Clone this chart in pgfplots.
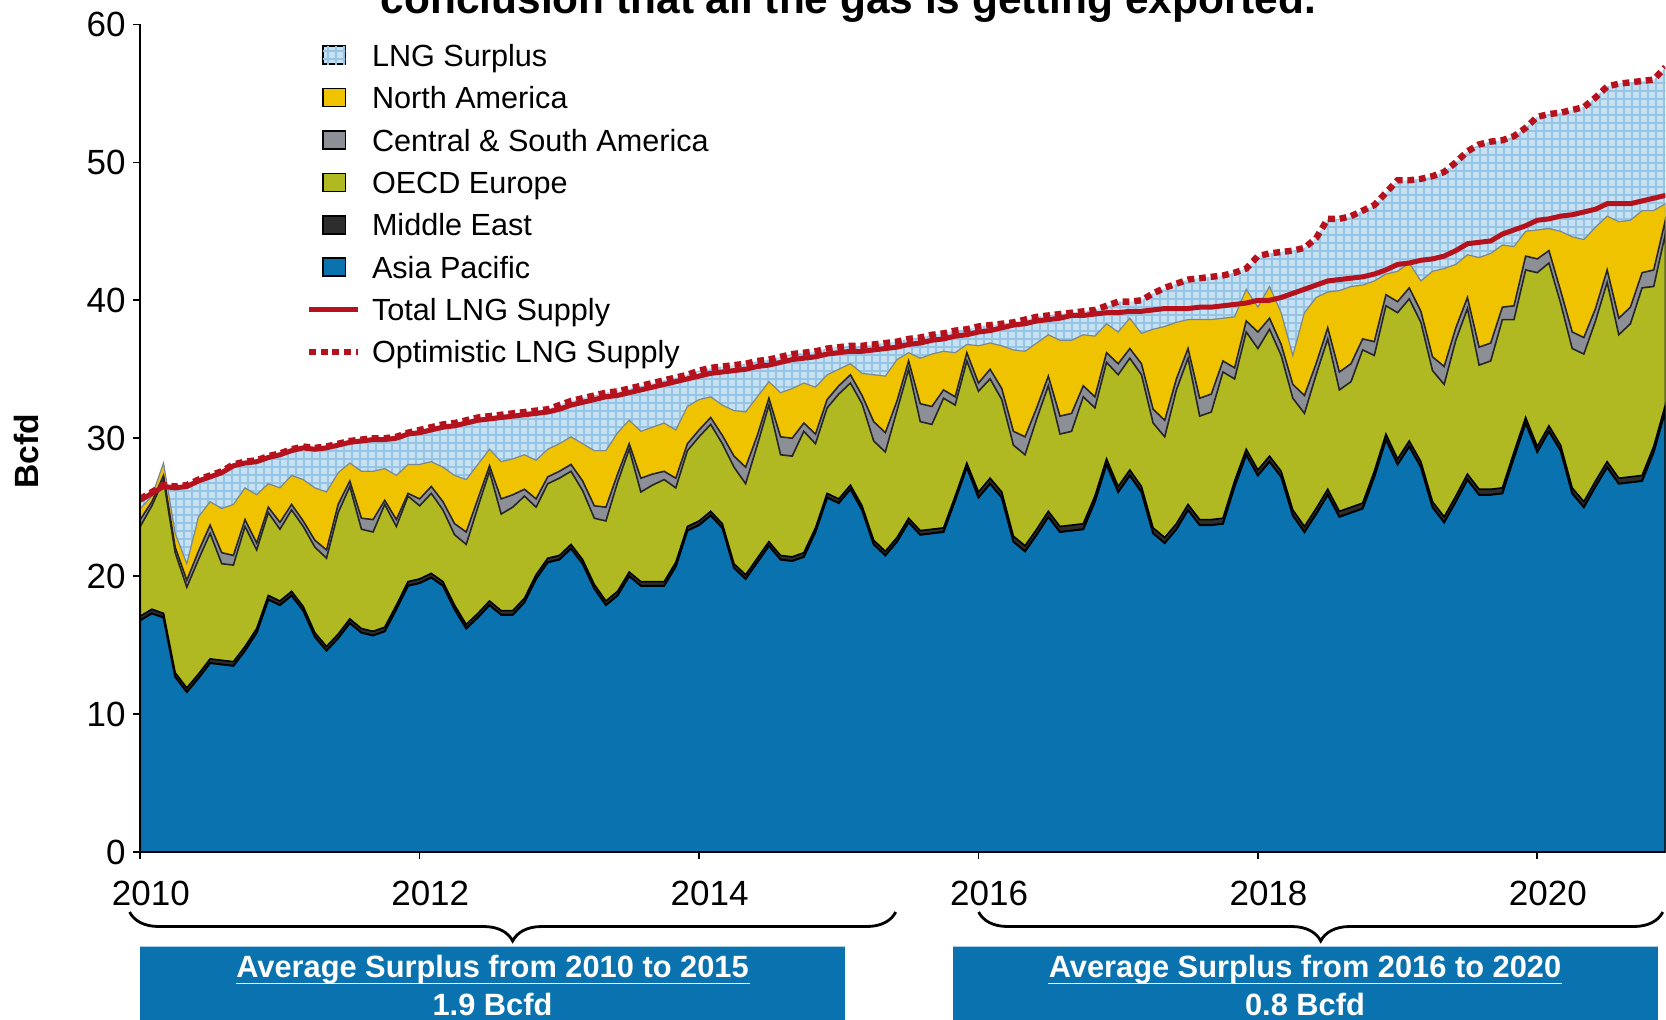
\documentclass[border=0pt]{standalone}
\usepackage{fontspec}
\setmainfont{Liberation Sans}
\usepackage{pgfplots}
\usepackage{pgfplotstable}
\pgfplotsset{compat=1.18}
\usetikzlibrary{patterns,decorations.pathreplacing}

\definecolor{asiablue}{RGB}{10,114,174}
\definecolor{medark}{RGB}{45,45,45}
\definecolor{eurolive}{RGB}{176,185,34}
\definecolor{csagray}{RGB}{141,143,150}
\definecolor{nayellow}{RGB}{240,195,0}
\definecolor{naedge}{RGB}{120,135,150}
\definecolor{lbfill}{RGB}{198,225,242}
\definecolor{lbgrid}{RGB}{150,196,228}
\definecolor{lngred}{RGB}{182,18,30}

\pgfdeclarepatternformonly{smallgrid}{\pgfqpoint{-0.5pt}{-0.5pt}}{\pgfqpoint{2.5pt}{2.5pt}}{\pgfqpoint{2pt}{2pt}}{%
  \pgfsetlinewidth{0.3pt}%
  \pgfpathmoveto{\pgfqpoint{0pt}{0pt}}\pgfpathlineto{\pgfqpoint{0pt}{2.01pt}}%
  \pgfpathmoveto{\pgfqpoint{0pt}{0pt}}\pgfpathlineto{\pgfqpoint{2.01pt}{0pt}}%
  \pgfusepath{stroke}}

% legend images keep a fixed 12.25pt wide cell
\newcommand{\legcell}{\pgfpathrectangle{\pgfpoint{0pt}{-2.5pt}}{\pgfpoint{12.25pt}{5pt}}\pgfusepath{discard}}
\pgfplotsset{
  patchleg/.style={legend image code/.code={
      \legcell
      \draw[##1, draw=black, line width=0.4pt] (3.45pt,-2.25pt) rectangle (9.05pt,2.25pt);}},
  lineleg/.style={legend image code/.code={
      \legcell
      \draw[##1] (0pt,0pt) -- (12.25pt,0pt);}},
}

% monthly values, Jan 2010 = 0; cumulative tops of each layer (Bcfd)
\pgfplotstableread{
m asia me eur csa na tot opt
0 16.8 17.1 23.6 24.1 24.9 25.5 25.6
1 17.3 17.6 25.1 25.4 25.8 26.0 26.1
2 17.0 17.3 27.0 27.3 28.2 26.5 26.6
3 12.7 13.0 21.7 22.1 23.1 26.4 26.5
4 11.6 11.9 19.2 19.7 20.9 26.5 26.6
5 12.6 12.9 21.2 21.8 24.3 26.9 27.0
6 13.7 14.0 23.1 23.7 25.4 27.2 27.3
7 13.6 13.9 20.9 21.7 24.9 27.5 27.6
8 13.5 13.8 20.8 21.5 25.2 28.0 28.1
9 14.6 14.9 23.6 24.1 26.4 28.2 28.3
10 15.9 16.2 21.9 22.4 25.9 28.3 28.4
11 18.3 18.6 24.6 25.0 26.7 28.6 28.7
12 17.9 18.2 23.4 23.9 26.4 28.8 28.9
13 18.6 18.9 24.8 25.2 27.3 29.1 29.2
14 17.5 17.8 23.6 24.0 27.0 29.3 29.4
15 15.6 15.9 22.1 22.6 26.4 29.2 29.3
16 14.6 14.9 21.3 21.9 26.1 29.3 29.4
17 15.5 15.8 24.6 25.2 27.5 29.5 29.6
18 16.6 16.9 26.5 26.9 28.2 29.7 29.8
19 15.9 16.2 23.4 24.2 27.6 29.8 29.9
20 15.7 16.0 23.2 24.1 27.6 29.9 30.0
21 16.0 16.3 25.2 25.5 27.8 29.9 30.0
22 17.6 17.9 23.6 24.1 27.3 30.0 30.1
23 19.3 19.6 25.8 26.0 28.1 30.3 30.4
24 19.5 19.8 25.1 25.6 28.1 30.4 30.6
25 19.9 20.2 26.0 26.5 28.3 30.6 30.8
26 19.3 19.6 24.8 25.4 27.9 30.8 31.0
27 17.6 17.9 23.0 23.8 27.3 30.9 31.1
28 16.2 16.5 22.3 23.2 27.0 31.1 31.3
29 17.0 17.3 25.0 25.6 28.1 31.3 31.5
30 17.9 18.2 27.6 28.0 29.2 31.4 31.6
31 17.2 17.5 24.5 25.6 28.3 31.5 31.7
32 17.2 17.5 25.0 25.9 28.5 31.6 31.8
33 18.1 18.4 25.8 26.3 28.8 31.7 31.9
34 19.8 20.1 25.0 25.6 28.4 31.8 32.0
35 21.0 21.3 26.7 27.2 29.2 31.9 32.1
36 21.2 21.5 27.1 27.6 29.6 32.1 32.4
37 22.0 22.3 27.6 28.1 30.1 32.4 32.7
38 20.9 21.2 26.2 26.9 29.6 32.6 32.9
39 19.1 19.4 24.2 25.1 29.1 32.8 33.1
40 17.9 18.2 24.0 25.0 29.1 33.0 33.3
41 18.6 18.9 26.8 27.4 30.4 33.1 33.4
42 20.0 20.3 29.2 29.6 31.3 33.3 33.6
43 19.3 19.6 26.1 27.1 30.5 33.5 33.8
44 19.3 19.6 26.6 27.4 30.8 33.7 34.0
45 19.3 19.6 27.0 27.6 31.1 33.9 34.2
46 20.7 21.0 26.4 27.1 30.6 34.1 34.4
47 23.3 23.6 29.1 29.6 32.3 34.3 34.6
48 23.7 24.0 30.1 30.6 32.8 34.5 34.9
49 24.4 24.7 31.0 31.5 33.0 34.7 35.1
50 23.5 23.8 29.6 30.2 32.4 34.8 35.2
51 20.6 20.9 27.9 28.7 32.0 34.9 35.3
52 19.8 20.1 26.7 27.9 31.9 35.0 35.4
53 21.0 21.3 29.5 30.2 33.0 35.2 35.6
54 22.2 22.5 32.4 32.9 34.1 35.3 35.7
55 21.2 21.5 28.8 30.1 33.3 35.5 35.9
56 21.1 21.4 28.7 30.0 33.6 35.7 36.1
57 21.4 21.7 30.5 31.1 34.0 35.8 36.2
58 23.2 23.5 29.6 30.3 33.7 35.9 36.3
59 25.7 26.0 32.2 32.8 34.6 36.1 36.5
60 25.3 25.6 33.2 33.8 35.0 36.2 36.6
61 26.3 26.6 34.0 34.6 35.4 36.3 36.7
62 24.8 25.1 32.5 33.1 34.7 36.3 36.7
63 22.3 22.6 29.8 31.2 34.6 36.4 36.8
64 21.5 21.8 29.0 30.4 34.5 36.5 36.9
65 22.5 22.8 32.0 32.7 35.7 36.6 37.0
66 23.9 24.2 35.0 35.6 36.2 36.8 37.2
67 23.0 23.3 31.2 32.5 35.8 36.9 37.3
68 23.1 23.4 31.0 32.3 36.1 37.1 37.5
69 23.2 23.5 32.9 33.5 36.3 37.2 37.6
70 25.5 25.8 32.4 33.0 36.2 37.4 37.8
71 27.9 28.2 35.6 36.2 36.8 37.5 37.9
72 25.7 26.1 33.4 34.0 36.7 37.7 38.1
73 26.7 27.1 34.3 35.0 36.9 37.8 38.2
74 25.7 26.1 32.8 33.6 36.7 38.0 38.3
75 22.5 22.9 29.5 30.5 36.4 38.2 38.4
76 21.8 22.2 28.8 30.1 36.3 38.3 38.6
77 23.0 23.4 31.4 32.2 36.9 38.5 38.8
78 24.3 24.7 33.8 34.5 37.5 38.6 38.9
79 23.2 23.6 30.3 31.6 37.1 38.7 39.0
80 23.3 23.7 30.5 31.8 37.1 38.9 39.1
81 23.4 23.8 33.0 33.8 37.5 38.9 39.2
82 25.4 25.8 32.2 33.0 37.4 39.0 39.3
83 28.1 28.5 35.5 36.2 38.3 39.1 39.6
84 26.1 26.5 34.6 35.4 37.7 39.1 39.9
85 27.3 27.7 35.8 36.5 38.7 39.2 39.9
86 26.1 26.5 34.6 35.4 37.6 39.2 40.0
87 23.1 23.5 31.1 32.1 37.9 39.3 40.5
88 22.4 22.8 30.1 31.3 38.1 39.4 40.9
89 23.4 23.8 33.5 34.3 38.4 39.4 41.2
90 24.8 25.2 35.8 36.5 38.6 39.4 41.5
91 23.7 24.1 31.6 32.9 38.6 39.5 41.6
92 23.7 24.1 31.9 33.2 38.6 39.5 41.7
93 23.8 24.2 34.8 35.6 38.7 39.6 41.8
94 26.5 26.9 34.3 35.1 38.8 39.7 42.0
95 28.8 29.2 37.7 38.5 40.8 39.8 42.3
96 27.3 27.7 36.5 37.7 39.5 40.0 43.2
97 28.3 28.7 37.9 38.7 41.0 40.0 43.4
98 27.2 27.6 36.0 36.8 39.1 40.2 43.5
99 24.4 24.8 32.9 33.9 36.0 40.5 43.6
100 23.2 23.6 31.8 33.1 39.1 40.8 43.8
101 24.5 24.9 34.6 35.4 40.2 41.1 44.5
102 25.9 26.3 37.2 38.0 40.6 41.4 45.9
103 24.3 24.7 33.5 34.8 40.7 41.5 45.9
104 24.6 25.0 34.1 35.4 41.0 41.6 46.1
105 24.9 25.3 36.4 37.2 41.1 41.7 46.5
106 27.2 27.6 36.0 37.0 41.4 41.9 46.9
107 29.9 30.3 39.6 40.4 41.9 42.2 47.8
108 28.1 28.5 39.1 39.9 42.1 42.6 48.7
109 29.4 29.8 40.1 40.9 42.7 42.7 48.7
110 27.9 28.3 38.4 39.2 41.4 42.9 48.8
111 25.0 25.4 34.9 35.9 42.1 43.0 49.0
112 23.9 24.3 33.9 35.2 42.3 43.2 49.3
113 25.4 25.8 37.1 38.0 42.6 43.6 50.0
114 27.0 27.4 39.4 40.2 43.3 44.1 50.8
115 25.9 26.3 35.3 36.6 43.1 44.2 51.3
116 25.9 26.3 35.6 36.9 43.4 44.3 51.5
117 26.0 26.4 38.6 39.5 44.0 44.8 51.6
118 28.6 29.0 38.6 39.6 43.9 45.1 51.9
119 31.1 31.5 42.2 43.2 45.0 45.4 52.5
120 29.0 29.4 42.0 43.0 45.1 45.8 53.3
121 30.5 30.9 42.7 43.6 45.2 45.9 53.5
122 29.1 29.5 39.8 40.7 45.0 46.1 53.6
123 26.0 26.4 36.5 37.7 44.6 46.2 53.8
124 25.0 25.4 36.1 37.3 44.4 46.4 54.0
125 26.5 26.9 38.5 39.4 45.3 46.6 54.7
126 27.9 28.3 41.3 42.2 46.1 47.0 55.5
127 26.7 27.1 37.5 38.7 45.7 47.0 55.7
128 26.8 27.2 38.3 39.5 45.8 47.0 55.8
129 26.9 27.3 40.9 42.0 46.5 47.2 55.9
130 29.0 29.4 41.0 42.2 46.5 47.4 56.0
131 32.0 32.4 44.8 45.8 47.0 47.6 56.9
}\lngdata

\begin{document}
\begin{tikzpicture}
\begin{axis}[
  at={(0pt,0pt)}, anchor=south west,
  scale only axis, width=381.27pt, height=206.9pt,
  xmin=0, xmax=131, ymin=0, ymax=60,
  axis lines=left, axis line style={-, line width=0.5pt, black},
  axis on top,
  xtick={0,24,48,72,96,120}, xticklabels={2010,2012,2014,2016,2018,2020},
  ytick={0,10,20,30,40,50,60}, yticklabels={0,10,20,30,40,50,60},
  /pgf/number format/assume math mode=true,
  tick align=outside, major tick length=1.85pt,
  tick style={black, line width=0.4pt},
  ticklabel style={font=\fontsize{8.75}{10}\selectfont, inner sep=0pt},
  xticklabel style={anchor=north, yshift=-5.2pt, xshift=2.65pt},
  yticklabel style={anchor=east, xshift=-1.6pt},
  legend cell align=left,
  legend style={draw=none, fill=none, inner sep=0pt, outer sep=0pt,
    at={(0.10869,0.97598)}, anchor=north west,
    row sep=5.09pt, column sep=2.65pt,
    font=\fontsize{7.65}{9}\selectfont,
    nodes={inner sep=0pt, text height=5.5pt, text depth=0pt}},
]
\addplot[patchleg, fill=lbfill, draw=none, postaction={pattern=smallgrid, pattern color=lbgrid}]
  table[x=m, y=opt]{\lngdata} \closedcycle;
\addlegendentry{LNG Surplus}
\addplot[patchleg, fill=nayellow, draw=naedge, line width=0.3pt]
  table[x=m, y=na]{\lngdata} \closedcycle;
\addlegendentry{North America}
\addplot[patchleg, fill=csagray, draw=black!85, line width=0.4pt]
  table[x=m, y=csa]{\lngdata} \closedcycle;
\addlegendentry{Central \& South America}
\addplot[patchleg, fill=eurolive, draw=black!85, line width=0.4pt]
  table[x=m, y=eur]{\lngdata} \closedcycle;
\addlegendentry{OECD Europe}
\addplot[patchleg, fill=medark, draw=black, line width=0.4pt]
  table[x=m, y=me]{\lngdata} \closedcycle;
\addlegendentry{Middle East}
\addplot[patchleg, fill=asiablue, draw=black, line width=0.5pt]
  table[x=m, y=asia]{\lngdata} \closedcycle;
\addlegendentry{Asia Pacific}
\addplot[lineleg, lngred, line width=1.25pt] table[x=m, y=tot]{\lngdata};
\addlegendentry{Total LNG Supply}
\addplot[lineleg, lngred, line width=1.6pt, dash pattern=on 1.7pt off 1.2pt]
  table[x=m, y=opt]{\lngdata};
\addlegendentry{Optimistic LNG Supply}
\end{axis}

% annotations, in reference pixels relative to the axis origin
\begin{scope}[x=0.25pt, y=0.25pt]
  \node[anchor=base, inner sep=0pt, font=\fontsize{10.6}{12}\selectfont\bfseries]
    at (708.25,838) {conclusion that all the gas is getting exported.};
  \node[rotate=90, inner sep=0pt, font=\fontsize{8.4}{10}\selectfont\bfseries]
    at (-113.65,400.4) {Bcfd};

  \draw[decorate, decoration={brace, mirror, amplitude=7.25pt}, line width=0.7pt]
    (-10.65,-60) -- (755.45,-60);
  \draw[decorate, decoration={brace, mirror, amplitude=7.25pt}, line width=0.7pt]
    (838.35,-60) -- (1522.55,-60);

  \fill[asiablue] (-0.25,-93.6) rectangle (704.75,-190);
  \fill[asiablue] (812.75,-93.6) rectangle (1517.25,-190);
  \draw[asiablue!35, line width=0.3pt] (-0.25,-94.2) -- (704.75,-94.2);
  \draw[asiablue!35, line width=0.3pt] (812.75,-94.2) -- (1517.25,-94.2);

  \node[anchor=base, inner sep=0pt, text=white, font=\fontsize{7.7}{9}\selectfont\bfseries]
    (t1) at (352.25,-125.9) {Average Surplus from 2010 to 2015};
  \draw[white, line width=0.45pt] ([yshift=-1.4pt]t1.base west) -- ([yshift=-1.4pt]t1.base east);
  \node[anchor=base, inner sep=0pt, text=white, font=\fontsize{7.7}{9}\selectfont\bfseries]
    at (352.25,-163) {1.9 Bcfd};

  \node[anchor=base, inner sep=0pt, text=white, font=\fontsize{7.7}{9}\selectfont\bfseries]
    (t2) at (1164.75,-125.9) {Average Surplus from 2016 to 2020};
  \draw[white, line width=0.45pt] ([yshift=-1.4pt]t2.base west) -- ([yshift=-1.4pt]t2.base east);
  \node[anchor=base, inner sep=0pt, text=white, font=\fontsize{7.7}{9}\selectfont\bfseries]
    at (1164.75,-163) {0.8 Bcfd};
\end{scope}

\pgfresetboundingbox
\useasboundingbox (-35.0625pt,-41.75pt) rectangle (381.4375pt,213pt);
\end{tikzpicture}
\end{document}
